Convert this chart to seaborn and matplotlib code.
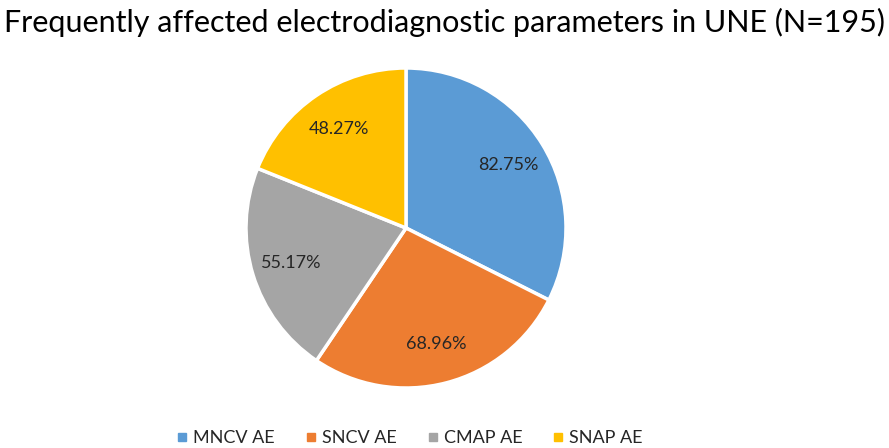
import matplotlib
matplotlib.use("Agg")
import matplotlib.pyplot as plt
import seaborn as sns
from matplotlib.lines import Line2D

categories = ["MNCV AE", "SNCV AE", "CMAP AE", "SNAP AE"]
values = [82.75, 68.96, 55.17, 48.27]
colors = ["#5B9BD5", "#ED7D31", "#A5A5A5", "#FFC000"]
title = "Frequently affected electrodiagnostic parameters in UNE (N=195)"

sns.set_theme(style="white")
plt.rcParams['font.family'] = ['Lato', 'DejaVu Sans']

fig = plt.figure(figsize=(8.89, 4.48), dpi=100)
fig.patch.set_facecolor("white")
W, H = 889, 448
cx, cy, r = 406, 228, 160
ax = fig.add_axes([(cx - r) / W, (H - cy - r) / H, 2 * r / W, 2 * r / H])

wedges, texts, autotexts = ax.pie(
    values, colors=sns.color_palette(colors), startangle=90, counterclock=False,
    autopct="%1.2f%%", pctdistance=0.75,
    wedgeprops=dict(edgecolor="white", linewidth=2.5),
    textprops=dict(fontsize=13, color="#262626"))
for t, v in zip(autotexts, values):
    t.set_text(f"{v:.2f}%")
ax.set_aspect("equal")
ax.set_xlim(-1.0, 1.0)
ax.set_ylim(-1.0, 1.0)

fig.text(0.5, 1 - 22 / H, title, ha="center", va="center", fontsize=22, color="#000000")

handles = [Line2D([0], [0], marker="s", linestyle="none", markersize=6,
                  markerfacecolor=c, markeredgecolor=c) for c in colors]
fig.legend(handles, categories, loc="center", bbox_to_anchor=(0.46, 1 - 438 / H),
           ncol=4, frameon=False, fontsize=13, handletextpad=0.2, columnspacing=1.6,
           handlelength=0.8)

fig.savefig("out.png", dpi=100, facecolor="white")
